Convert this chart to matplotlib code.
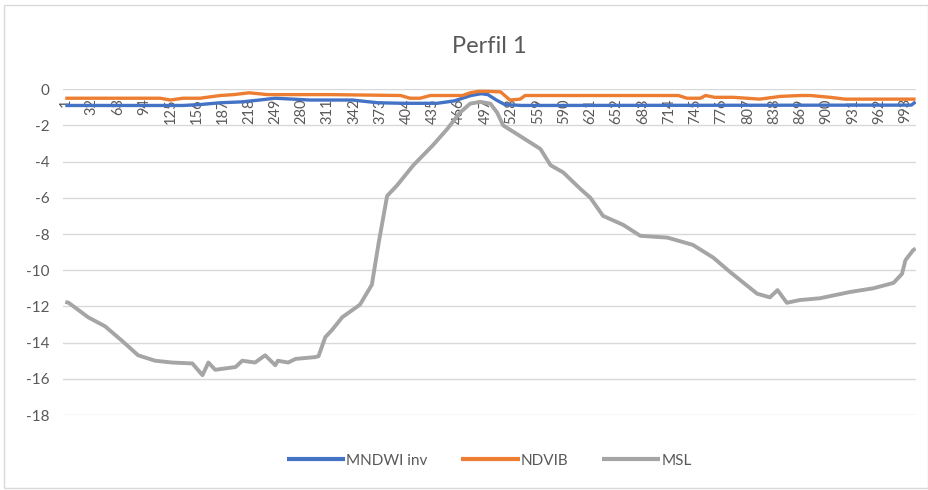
import matplotlib.pyplot as plt
from matplotlib.patches import Rectangle

plt.rcParams['font.family'] = ['Lato', 'DejaVu Sans']

# category positions (1..1005) and values
msl_x = [1, 5, 28, 48, 68, 87, 107, 127, 151, 163, 170, 178, 202, 210, 225, 237, 249, 252, 264, 273,
         296, 300, 308, 316, 328, 349, 363, 371, 381, 393, 412, 435, 452, 467, 479, 491, 503, 511, 518, 535,
         562, 574, 589, 609, 621, 636, 660, 680, 712, 742, 766, 786, 802, 818, 833, 842, 853, 868, 892, 928,
         955, 979, 989, 993, 1002, 1005]
msl_y = [-11.75, -11.8, -12.6, -13.1, -13.9, -14.7, -15.0, -15.1, -15.15, -15.8, -15.1, -15.5, -15.35, -15.0, -15.1, -14.7, -15.25, -15.0, -15.1, -14.9,
         -14.8, -14.75, -13.7, -13.3, -12.6, -11.9, -10.8, -8.5, -5.9, -5.3, -4.2, -3.1, -2.2, -1.3, -0.8, -0.7, -0.8, -1.3, -2.0, -2.5,
         -3.3, -4.2, -4.6, -5.5, -6.0, -7.0, -7.5, -8.1, -8.2, -8.6, -9.3, -10.1, -10.7, -11.3, -11.5, -11.1, -11.8, -11.65, -11.55, -11.2,
         -11.0, -10.7, -10.2, -9.45, -8.9, -8.8]

ndvib_x = [1, 113, 125, 140, 160, 184, 200, 218, 240, 300, 314, 397, 408, 420, 432, 470, 479, 489, 500, 515,
           526, 538, 544, 725, 735, 751, 757, 768, 790, 821, 845, 869, 881, 904, 922, 1005]
ndvib_y = [-0.5, -0.5, -0.6, -0.5, -0.5, -0.35, -0.3, -0.2, -0.3, -0.3, -0.3, -0.35, -0.5, -0.5, -0.35, -0.35, -0.2, -0.12, -0.12, -0.15,
           -0.6, -0.55, -0.35, -0.35, -0.5, -0.5, -0.35, -0.45, -0.45, -0.55, -0.4, -0.35, -0.35, -0.45, -0.55, -0.55]

mndwi_x = [1, 140, 160, 184, 210, 230, 249, 290, 340, 370, 400, 440, 460, 470, 480, 492, 500, 510, 520, 540, 1000, 1005]
mndwi_y = [-0.9, -0.9, -0.85, -0.75, -0.7, -0.6, -0.5, -0.6, -0.6, -0.75, -0.78, -0.78, -0.65, -0.5, -0.35, -0.25, -0.3, -0.6, -0.85, -0.9, -0.88, -0.7]

cat_labels = list(range(1, 1005, 31))
y_ticks = list(range(0, -19, -2))

grey_txt = '#595959'

fig = plt.figure(figsize=(9.29, 4.9), dpi=100)
ax = fig.add_axes([0.068, 0.153, 0.918, 0.665])

ax.plot(mndwi_x, mndwi_y, color='#4472C4', lw=2.4, label='MNDWI inv', zorder=4, solid_capstyle='butt')
ax.plot(ndvib_x, ndvib_y, color='#ED7D31', lw=2.4, label='NDVIB', zorder=4, solid_capstyle='butt')
ax.plot(msl_x, msl_y, color='#A5A5A5', lw=2.8, label='MSL', zorder=5, solid_capstyle='butt')

ax.set_xlim(-1.5, 1005.5)
ax.set_ylim(-18, 0)
ax.set_yticks(y_ticks)
ax.set_yticklabels([str(v) for v in y_ticks], color=grey_txt, fontsize=11)
ax.set_xticks([])
ax.tick_params(axis='y', length=0, pad=10)
ax.grid(axis='y', color='#D9D9D9', lw=1)
ax.set_axisbelow(True)
for s in ax.spines.values():
    s.set_visible(False)

# rotated category labels sitting under the zero axis
for c in cat_labels:
    ax.text(c, -0.5, str(c), rotation=90, ha='center', va='top', fontsize=10.5,
            color=grey_txt, zorder=2)

ax.set_title('Perfil 1', fontsize=17, color=grey_txt, pad=26)

leg = fig.legend(loc='center', bbox_to_anchor=(0.527, 0.06), ncol=3, frameon=False,
                 fontsize=11, handlelength=3.8, handletextpad=0.1, columnspacing=2.2)
for t in leg.get_texts():
    t.set_color(grey_txt)
for h in leg.get_lines():
    h.set_linewidth(3)

fig.patches.append(Rectangle((0.004, 0.004), 0.995, 0.985, transform=fig.transFigure,
                             fill=False, edgecolor='#D9D9D9', lw=1))

fig.savefig('out.png', dpi=100)
